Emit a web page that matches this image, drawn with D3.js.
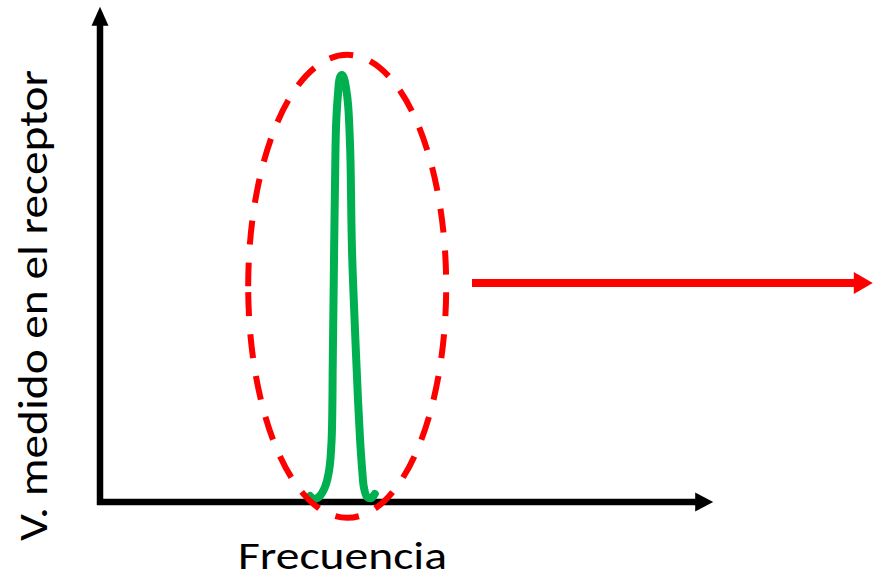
<!DOCTYPE html>
<html>
<head>
<meta charset="utf-8">
<script src="https://cdn.jsdelivr.net/npm/d3@7"></script>
<style>
  html, body { margin: 0; padding: 0; background: #fff; }
  svg { display: block; }
</style>
</head>
<body>
<div id="chart"></div>
<script>
// data (frequency in arbitrary units, voltage normalised to the peak)
var freq = [35.0, 35.7, 36.5, 37.5, 38.2, 38.6, 38.8, 39.0, 39.2, 39.35, 39.65, 40.0, 40.35,
            40.65, 41.0, 41.35, 41.7, 42.0, 42.5, 43.0, 43.35, 43.7, 44.0, 44.5, 45.2, 45.8];
var volt = [0.014, 0.007, 0.012, 0.035, 0.075, 0.145, 0.333, 0.567, 0.778, 0.883, 0.953, 0.995, 1.0,
            0.993, 0.970, 0.930, 0.824, 0.590, 0.403, 0.239, 0.145, 0.075, 0.033, 0.012, 0.009, 0.019];

var xLabel = "Frecuencia";
var yLabel = "V. medido en el receptor";

// axis extents and the highlight arrow, in data units
var xAxisMax = 102.2;
var yAxisMax = 1.16;
var arrowFrom = 62, arrowTo = 128.8, arrowLevel = 0.513;

var svgWidth = 873;
var svgHeight = 580;

var svg = d3.select("#chart")
  .append("svg")
  .attr("width", svgWidth)
  .attr("height", svgHeight);

var xScale = d3.scaleLinear().domain([0, 100]).range([100, 700]);
var yScale = d3.scaleLinear().domain([0, 1]).range([502, 75]);

var red = "#ff0000";
var green = "#00b050";

// simple filled triangle for arrow heads
function head(tipX, tipY, dir, len, half) {
  var p = d3.path();
  if (dir === "right") {
    p.moveTo(tipX, tipY);
    p.lineTo(tipX - len, tipY - half);
    p.lineTo(tipX - len, tipY + half);
  } else {
    p.moveTo(tipX, tipY);
    p.lineTo(tipX - half, tipY + len);
    p.lineTo(tipX + half, tipY + len);
  }
  p.closePath();
  return p.toString();
}

// x axis
var x0 = xScale(-0.5), xTip = xScale(xAxisMax), y0 = yScale(0);
svg.append("line")
  .attr("x1", x0).attr("y1", y0)
  .attr("x2", xTip - 16).attr("y2", y0)
  .attr("stroke", "#000").attr("stroke-width", 6.5);
svg.append("path")
  .attr("d", head(xTip, y0, "right", 18, 9.5))
  .attr("fill", "#000");

// y axis
var yTip = yScale(yAxisMax), yx = xScale(0);
svg.append("line")
  .attr("x1", yx).attr("y1", yScale(-0.007))
  .attr("x2", yx).attr("y2", yTip + 17)
  .attr("stroke", "#000").attr("stroke-width", 6.5);
svg.append("path")
  .attr("d", head(yx, yTip, "up", 19, 8.5))
  .attr("fill", "#000");

// green resonance peak
var line = d3.line()
  .x(function(d, i) { return xScale(freq[i]); })
  .y(function(d) { return yScale(d); })
  .curve(d3.curveCatmullRom.alpha(0.5));

svg.append("path")
  .datum(volt)
  .attr("d", line)
  .attr("fill", "none")
  .attr("stroke", green)
  .attr("stroke-width", 8)
  .attr("stroke-linecap", "round")
  .attr("stroke-linejoin", "round");

// dashed ellipse round the peak
var cx = xScale(41.2), cy = yScale(0.505);
svg.append("ellipse")
  .attr("cx", cx).attr("cy", cy)
  .attr("rx", 99).attr("ry", 231.5)
  .attr("transform", "rotate(180," + cx + "," + cy + ")")
  .attr("fill", "none")
  .attr("stroke", red)
  .attr("stroke-width", 6)
  .attr("stroke-dasharray", "24 18");

// red arrow to the right
var ay = yScale(arrowLevel);
svg.append("line")
  .attr("x1", xScale(arrowFrom)).attr("y1", ay)
  .attr("x2", xScale(arrowTo) - 18).attr("y2", ay)
  .attr("stroke", red).attr("stroke-width", 8);
svg.append("path")
  .attr("d", head(xScale(arrowTo), ay, "right", 19, 11))
  .attr("fill", red);

// labels
var font = "Carlito, Calibri, Lato, sans-serif";

svg.append("text")
  .attr("x", 238)
  .attr("y", 569)
  .attr("font-family", font)
  .attr("font-size", 39)
  .attr("fill", "#000")
  .attr("textLength", 209)
  .attr("lengthAdjust", "spacingAndGlyphs")
  .text(xLabel);

svg.append("text")
  .attr("transform", "translate(47,541) rotate(-90)")
  .attr("font-family", font)
  .attr("font-size", 41)
  .attr("fill", "#000")
  .attr("textLength", 471)
  .attr("lengthAdjust", "spacingAndGlyphs")
  .text(yLabel);
</script>
</body>
</html>
